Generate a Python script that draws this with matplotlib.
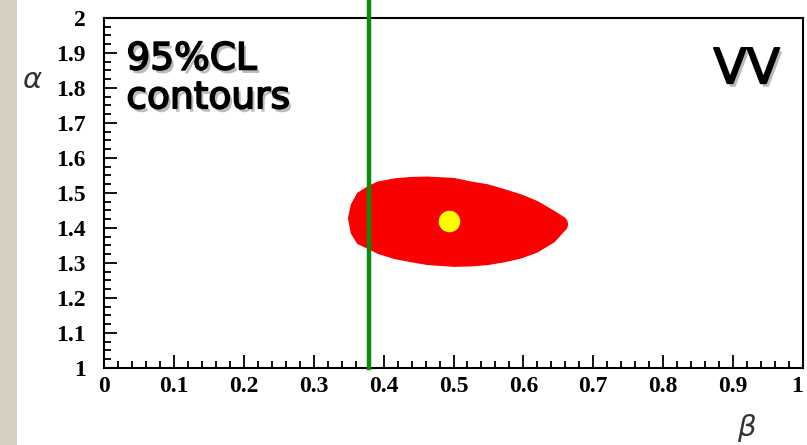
import numpy as np
import matplotlib
matplotlib.use("Agg")
import matplotlib.pyplot as plt
import matplotlib.patheffects as pe
from matplotlib.patches import Polygon, Rectangle
from matplotlib.ticker import MultipleLocator

# 95% CL contour outline (beta, alpha)
contour_beta = [0.350, 0.354, 0.363, 0.378, 0.392, 0.416, 0.440, 0.463, 0.501, 0.525,
                0.549, 0.573, 0.597, 0.620, 0.644, 0.659, 0.662, 0.663, 0.662,
                0.659, 0.644, 0.620, 0.597, 0.573, 0.549, 0.525, 0.501, 0.463,
                0.440, 0.416, 0.392, 0.378, 0.363, 0.354]
contour_alpha = [1.428, 1.466, 1.499, 1.518, 1.531, 1.540, 1.544, 1.545, 1.541, 1.531,
                 1.523, 1.509, 1.494, 1.475, 1.447, 1.428, 1.420, 1.411, 1.401,
                 1.394, 1.361, 1.332, 1.315, 1.304, 1.296, 1.292, 1.291, 1.296,
                 1.304, 1.313, 1.328, 1.342, 1.356, 1.385]

best_fit = (0.493, 1.42)
beta_limit = 0.379

xticks = [0, 0.1, 0.2, 0.3, 0.4, 0.5, 0.6, 0.7, 0.8, 0.9, 1]
xticklabels = ["0", "0.1", "0.2", "0.3", "0.4", "0.5", "0.6", "0.7", "0.8", "0.9", "1"]
yticks = [1, 1.1, 1.2, 1.3, 1.4, 1.5, 1.6, 1.7, 1.8, 1.9, 2]
yticklabels = ["1", "1.1", "1.2", "1.3", "1.4", "1.5", "1.6", "1.7", "1.8", "1.9", "2"]

fig = plt.figure(figsize=(8.07, 4.45), dpi=100)
fig.patch.set_facecolor("white")
# marble strip on the left edge
fig.patches.append(Rectangle((0, 0), 17 / 807, 1, transform=fig.transFigure,
                             facecolor="#d8cfc3", edgecolor="none", zorder=0))

ax = fig.add_axes([104 / 807, 77 / 445, 699 / 807, 350 / 445])
ax.set_xlim(0, 1)
ax.set_ylim(1, 2)

ax.add_patch(Polygon(np.column_stack([contour_beta, contour_alpha]), closed=True,
                     facecolor="#fb0000", edgecolor="#fb0000", linewidth=1,
                     joinstyle="round", zorder=2))
ax.plot([best_fit[0]], [best_fit[1]], "o", color="#ffff00", markersize=15.5,
        markeredgewidth=0, zorder=3)
ax.plot([beta_limit, beta_limit], [1, 2.08], color="#0a8c0a", linewidth=3.2,
        clip_on=False, zorder=4)

for s in ax.spines.values():
    s.set_linewidth(1.5)
    s.set_color("black")

ax.set_xticks(xticks)
ax.set_xticklabels(xticklabels)
ax.set_yticks(yticks)
ax.set_yticklabels(yticklabels)
ax.xaxis.set_minor_locator(MultipleLocator(0.02))
ax.yaxis.set_minor_locator(MultipleLocator(0.025))
ax.tick_params(which="both", direction="in", top=False, right=False, width=1.3)
ax.tick_params(which="major", length=9.5)
ax.tick_params(which="minor", length=4.8)
ax.tick_params(axis="x", pad=6)
ax.tick_params(axis="y", pad=13)
for lab in ax.get_xticklabels() + ax.get_yticklabels():
    lab.set_fontfamily("Liberation Serif")
    lab.set_fontweight("bold")
    lab.set_fontsize(17)
# last x label sits at the figure edge; keep it inside
ax.get_xticklabels()[-1].set_horizontalalignment("right")

shadow = [pe.SimplePatchShadow(offset=(2, -2.5), shadow_rgbFace="#666666", alpha=0.45),
          pe.withStroke(linewidth=1.2, foreground="black")]
ax.text(0.032, 0.933, "95%CL\ncontours", transform=ax.transAxes, fontsize=27,
        family="DejaVu Sans", va="top", ha="left", linespacing=1.1,
        path_effects=shadow)
ax.text(0.967, 0.922, "VV", transform=ax.transAxes, fontsize=35,
        family="DejaVu Sans", va="top", ha="right", path_effects=shadow)

fig.text(32 / 807, 1 - 80 / 445, "α", fontsize=21, color="#333333",
         ha="center", va="center", family="DejaVu Sans", fontstyle="italic")
fig.text(746 / 807, 1 - 428 / 445, "β", fontsize=21, color="#333333",
         ha="center", va="center", family="DejaVu Sans", fontstyle="italic")

fig.savefig("out.png", dpi=100)
